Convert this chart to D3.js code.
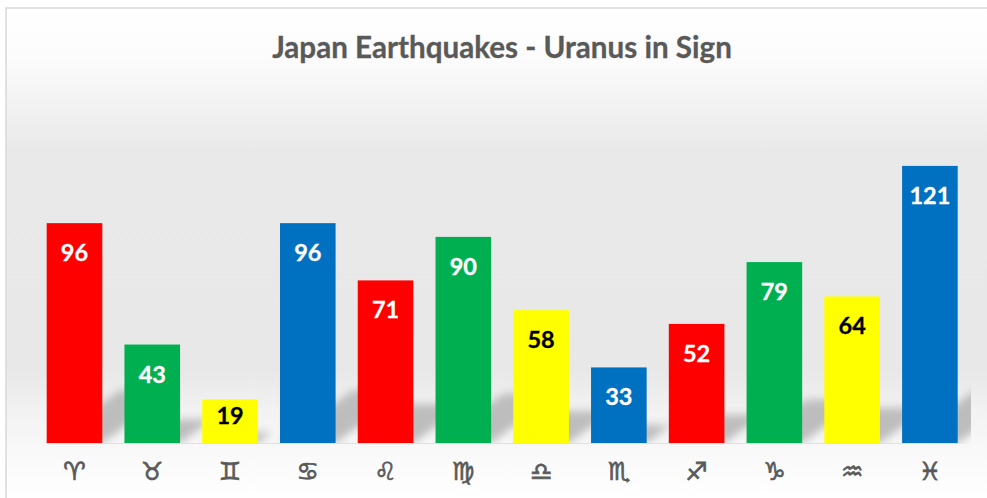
<!DOCTYPE html>
<html>
<head>
<meta charset="utf-8">
<script src="https://cdn.jsdelivr.net/npm/d3@7"></script>
<style>
  html, body { margin: 0; padding: 0; background: #fff; overflow: hidden; }
</style>
</head>
<body>
<div class="chart"></div>
<script>
const signs = ["\u2648\uFE0E", "\u2649\uFE0E", "\u264A\uFE0E", "\u264B\uFE0E", "\u264C\uFE0E", "\u264D\uFE0E", "\u264E\uFE0E", "\u264F\uFE0E", "\u2650\uFE0E", "\u2651\uFE0E", "\u2652\uFE0E", "\u2653\uFE0E"]
const counts = [96, 43, 19, 96, 71, 90, 58, 33, 52, 79, 64, 121]
const barColors = ["#ff0000", "#00b050", "#ffff00", "#0070c0", "#ff0000", "#00b050", "#ffff00", "#0070c0", "#ff0000", "#00b050", "#ffff00", "#0070c0"]
const labelColors = ["#fff", "#fff", "#000", "#fff", "#fff", "#fff", "#000", "#fff", "#fff", "#fff", "#000", "#fff"]
const chartTitle = "Japan Earthquakes - Uranus in Sign"

const svgWidth = 987
const svgHeight = 498
const svg = d3.select('.chart')
  .append('svg')
  .attr('width', svgWidth)
  .attr('height', svgHeight)
  .style('display', 'block')

const defs = svg.append('defs')

// 背景漸層
const bg = defs.append('linearGradient')
  .attr('id', 'bg')
  .attr('gradientUnits', 'userSpaceOnUse')
  .attr('x1', 0).attr('x2', 0).attr('y1', 8).attr('y2', 498)
const bgStops = [[0, '#ffffff'], [0.1, '#fcfcfc'], [0.29, '#e9e9e9'], [0.74, '#e8e8e8'], [0.82, '#f2f2f2'], [0.92, '#fafafa'], [1, '#ffffff']]
bgStops.forEach(s => bg.append('stop').attr('offset', s[0]).attr('stop-color', s[1]))

defs.append('filter')
  .attr('id', 'blur')
  .attr('x', '-10%').attr('y', '-30%').attr('width', '120%').attr('height', '160%')
  .append('feGaussianBlur')
  .attr('stdDeviation', 4)

svg.append('rect')
  .attr('x', 6).attr('y', 8)
  .attr('width', 1000).attr('height', 510)
  .attr('fill', 'url(#bg)')
  .attr('stroke', '#d9d9d9')
  .attr('stroke-width', 1.5)

svg.append('text')
  .attr('x', 502)
  .attr('y', 58)
  .attr('text-anchor', 'middle')
  .attr('font-family', 'Lato, sans-serif')
  .attr('font-weight', 700)
  .attr('font-size', 29.6)
  .attr('fill', '#595959')
  .attr('stroke', '#595959')
  .attr('stroke-width', 0.3)
  .text(chartTitle)

// 比例尺
const xScale = d3.scaleBand()
  .domain(signs)
  .range([46.7, 957.7])
  .paddingInner(0.285)
  .paddingOuter(0)

const yScale = d3.scaleLinear()
  .domain([0, 140])
  .range([443, 122.4])

// 長條的斜影
const shadowHeight = 0.24
const shadowSkew = 1.375
defs.append('clipPath')
  .attr('id', 'shadowClip')
  .append('rect')
  .attr('x', 0).attr('y', 0)
  .attr('width', 971).attr('height', yScale(0) + 1)

svg.append('g')
  .attr('clip-path', 'url(#shadowClip)')
  .append('g')
  .attr('filter', 'url(#blur)')
  .selectAll('path')
  .data(counts)
  .enter()
  .append('path')
  .attr('fill', '#bdbdbd')
  .attr('d', (d, i) => {
    const left = xScale(signs[i])
    const right = left + xScale.bandwidth()
    const base = yScale(0)
    const rise = (base - yScale(d)) * shadowHeight
    const shift = rise * shadowSkew
    return `M${left},${base}L${right},${base}L${right + shift},${base - rise}L${left + shift},${base - rise}Z`
  })

// 加上長條
svg.append('g')
  .selectAll('rect')
  .data(counts)
  .enter()
  .append('rect')
  .attr('x', (d, i) => xScale(signs[i]))
  .attr('y', d => yScale(d))
  .attr('width', xScale.bandwidth())
  .attr('height', d => yScale(0) - yScale(d))
  .attr('fill', (d, i) => barColors[i])

svg.append('g')
  .selectAll('text')
  .data(counts)
  .enter()
  .append('text')
  .attr('x', (d, i) => xScale(signs[i]) + xScale.bandwidth() / 2)
  .attr('y', d => Math.min(yScale(d) + 38, yScale(0) - 19))
  .attr('text-anchor', 'middle')
  .attr('font-family', 'Lato, sans-serif')
  .attr('font-weight', 700)
  .attr('font-size', 23.5)
  .attr('fill', (d, i) => labelColors[i])
  .attr('stroke', (d, i) => labelColors[i])
  .attr('stroke-width', 0.3)
  .text(d => d)

// X 軸
const xAxis = d3.axisBottom(xScale).tickSize(0).tickPadding(19)
const xAxisG = svg.append('g')
  .attr('transform', `translate(0, ${yScale(0)})`)
  .call(xAxis)
xAxisG.select('.domain').attr('stroke', '#e0e0e0').attr('stroke-width', 1)
xAxisG.selectAll('text')
  .attr('font-family', '"DejaVu Sans", sans-serif')
  .attr('font-size', 25)
  .attr('fill', '#595959')
  .attr('stroke', '#595959')
  .attr('stroke-width', 0.7)
</script>
</body>
</html>
